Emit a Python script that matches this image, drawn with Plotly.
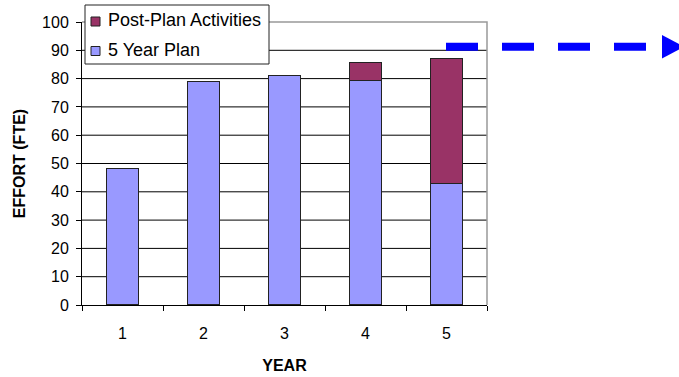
import plotly.graph_objects as go

years = ["1", "2", "3", "4", "5"]
plan = [48.2, 78.9, 81.2, 79.2, 42.9]
post_plan = [None, None, None, 6.6, 44.2]
y_ticks = list(range(0, 101, 10))
legend_names = ["Post-Plan Activities", "5 Year Plan"]
colors = {"5 Year Plan": "#9999FF", "Post-Plan Activities": "#993366"}

FONT = "Liberation Sans, Arial, sans-serif"
L, R, T, B = 82, 487, 22, 305  # plot area in pixels


def px(x):
    return (x - L) / (R - L)


def py(y):
    return (B - y) / (B - T)


fig = go.Figure()
fig.add_trace(go.Bar(
    x=years, y=plan, name="5 Year Plan",
    marker=dict(color=colors["5 Year Plan"], line=dict(color="#222222", width=1.2)),
))
fig.add_trace(go.Bar(
    x=years, y=post_plan, name="Post-Plan Activities",
    marker=dict(color=colors["Post-Plan Activities"], line=dict(color="#222222", width=1.2)),
))

# horizontal gridlines (except the top border)
for v in y_ticks[1:-1]:
    fig.add_shape(type="line", xref="paper", yref="y", x0=0, x1=1, y0=v, y1=v,
                  line=dict(color="black", width=1), layer="below")

# gray plot-area border (top and right)
fig.add_shape(type="path", xref="paper", yref="paper",
              path="M 0,1 L 1,1 L 1,0", line=dict(color="#999999", width=1.5),
              layer="above")

# legend box (manual)
fig.add_shape(type="rect", xref="paper", yref="paper",
              x0=px(85), x1=px(269), y0=py(64), y1=py(5),
              fillcolor="white", line=dict(color="#222222", width=1), layer="above")
for i, name in enumerate(legend_names):
    cy = 21.5 + 29.5 * i
    fig.add_shape(type="rect", xref="paper", yref="paper",
                  x0=px(91), x1=px(100), y0=py(cy + 4.5), y1=py(cy - 4.5),
                  fillcolor=colors[name], line=dict(color="#222222", width=1),
                  layer="above")
    fig.add_annotation(xref="paper", yref="paper", x=px(106), y=py(cy - 1),
                       xanchor="left", yanchor="middle", text=name, showarrow=False,
                       font=dict(family=FONT, size=18, color="black"))

# dashed arrow to the right
fig.add_shape(type="line", xref="paper", yref="paper",
              x0=px(446), x1=px(646), y0=py(46.7), y1=py(46.7),
              line=dict(color="#0000FF", width=8, dash="32px,24px"))
fig.add_shape(type="path", xref="paper", yref="paper",
              path="M {a},{b} L {c},{d} L {a},{e} Z".format(
                  a=px(662), b=py(35), c=px(684), d=py(46.7), e=py(58.5)),
              fillcolor="#0000FF", line=dict(width=0))

fig.update_layout(
    barmode="stack",
    bargap=0.6,
    width=679, height=377,
    margin=dict(l=L, r=679 - R, t=T, b=377 - B, autoexpand=False),
    paper_bgcolor="white", plot_bgcolor="white",
    font=dict(family=FONT, size=16, color="black"),
    showlegend=False,
    xaxis=dict(
        type="category", showgrid=False, showline=True, linecolor="black",
        linewidth=1, ticks="outside", tickson="boundaries", ticklen=5,
        tickcolor="black", tickfont=dict(size=16), ticklabelstandoff=14,
        title=dict(text="<b>YEAR</b>", font=dict(size=16), standoff=18),
        automargin=False,
    ),
    yaxis=dict(
        range=[0, 100], tickvals=y_ticks, showgrid=False,
        showline=True, linecolor="black", linewidth=1,
        ticks="outside", ticklen=5, tickcolor="black",
        tickfont=dict(size=16), ticklabelstandoff=4, zeroline=False,
        title=dict(text="<b>EFFORT (FTE)</b>", font=dict(size=16), standoff=12),
        automargin=False,
    ),
)

fig.write_html("out.html")
